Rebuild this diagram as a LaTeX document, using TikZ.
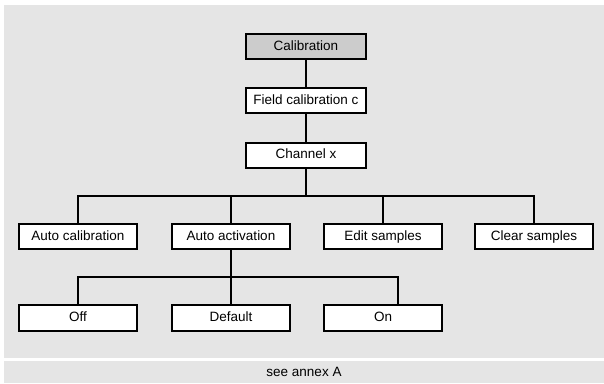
\documentclass[tikz,border=0pt]{standalone}
\usepackage{fontspec}
\setmainfont{Liberation Sans}
\definecolor{panelgray}{HTML}{E5E5E5}
\definecolor{topgray}{HTML}{CCCCCC}

\begin{document}
\begin{tikzpicture}[x=1pt, y=-1pt,
    item/.style={draw, line width=2pt, fill=white, minimum width=118pt,
      minimum height=25pt, inner sep=0pt, text height=10pt, text depth=3pt,
      font=\fontsize{13.5}{16}\selectfont},
    wire/.style={line width=2pt}]
  \useasboundingbox (0,0) rectangle (604,383);
  \fill[panelgray] (4,5) rectangle (604,358);
  \fill[panelgray] (4,361) rectangle (604,383);

  \node[item, fill=topgray, minimum width=120pt] (cal) at (306,46.5) {Calibration};
  \node[item, minimum width=120pt] (field) at (306,100.5) {Field calibration c};
  \node[item, minimum width=120pt] (chan) at (306,155) {Channel x};

  \node[item] (autocal) at (78,236.5) {Auto calibration};
  \node[item] (autoact) at (231,236.5) {Auto activation};
  \node[item] (edit) at (383,236.5) {Edit samples};
  \node[item] (clear) at (534,236.5) {Clear samples};

  \node[item, minimum height=26pt] (off) at (78,318) {Off};
  \node[item, minimum height=26pt] (default) at (231,318) {Default};
  \node[item, minimum height=26pt] (on) at (383,318) {On};

  \coordinate (bus) at (306,196);
  \coordinate (onjoin) at (398,277);

  \draw[wire] (cal) -- (field);
  \draw[wire] (field) -- (chan);
  \draw[wire] (chan.south) -- (bus);
  \draw[wire] (autocal.north) |- (bus) -| (clear.north);
  \draw[wire] (autoact.north) -- (autoact.north |- bus);
  \draw[wire] (edit.north) -- (edit.north |- bus);

  \draw[wire] (autoact.south) -- (default.north);
  \draw[wire] (off.north) |- (onjoin) -- (onjoin |- on.north);

  \node[font=\fontsize{13.5}{16}\selectfont] (annex) at (304,372) {see annex A};
\end{tikzpicture}
\end{document}
